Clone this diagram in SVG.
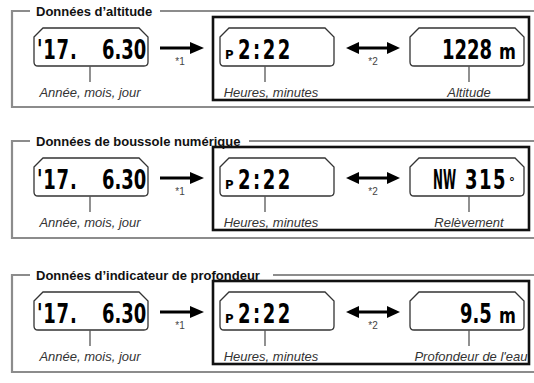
<svg xmlns="http://www.w3.org/2000/svg" xmlns:xlink="http://www.w3.org/1999/xlink" width="534" height="383" viewBox="0 0 534 383">
<style>
.frame{fill:none;stroke:#8c8c8c;stroke-width:2.2}
.title{font-family:"Liberation Sans",Arial,sans-serif;font-weight:bold;font-size:13px;fill:#111}
.box{fill:none;stroke:#111;stroke-width:2.6}
.lcd{fill:#fff;stroke:#333;stroke-width:1.3}
.tick{stroke:#555;stroke-width:1.3}
.lbl{font-family:"Liberation Sans",Arial,sans-serif;font-style:italic;font-size:13px;fill:#333;text-anchor:middle}
.seg{font-family:"DejaVu Sans Condensed","DejaVu Sans",sans-serif;font-weight:bold;font-size:20px;fill:#000}
.unit{font-family:"DejaVu Sans Condensed","DejaVu Sans",sans-serif;font-weight:bold;font-size:18px;fill:#000}
.ind{font-family:"DejaVu Sans Condensed","DejaVu Sans",sans-serif;font-weight:bold;font-size:13px;fill:#000}
.note{font-family:"Liberation Sans",Arial,sans-serif;font-size:10px;fill:#444;text-anchor:middle}
.arr{stroke:#000;stroke-width:3;fill:none}
.head{fill:#000}
</style>
<defs>
<path id="lcdshape" class="lcd" d="M0,9 L9,0 H105 L114,9 V34 Q114,38 110,38 H4 Q0,38 0,34 Z"/>
</defs>

<!-- Panel 1 -->
<g id="panel-altitude">
  <path class="frame" d="M30,11 H12 V107 H534 M160,11 H534"/>
  <text class="title" x="36" y="15.5">Données d’altitude</text>
  <rect class="box" x="213" y="17" width="316" height="83"/>
  <g id="p1-date">
    <use xlink:href="#lcdshape" x="34" y="28"/>
    <text class="seg" transform="translate(37,59) scale(1,1.32)" letter-spacing="0.8">'17.</text>
    <text class="seg" transform="translate(102,59) scale(1,1.32)">6.30</text>
    <line class="tick" x1="90" y1="66" x2="90" y2="82"/>
    <text class="lbl" x="90" y="97">Année, mois, jour</text>
  </g>
  <g id="p1-time">
    <use xlink:href="#lcdshape" x="220" y="28"/>
    <text class="ind" x="225" y="59">P</text>
    <text class="seg" transform="translate(238,59) scale(1,1.32)" letter-spacing="2.5">2:22</text>
    <line class="tick" x1="265" y1="66" x2="265" y2="82"/>
    <text class="lbl" x="271" y="97">Heures, minutes</text>
  </g>
  <g id="p1-alt">
    <use xlink:href="#lcdshape" x="410" y="28"/>
    <text class="seg" transform="translate(442,59) scale(1,1.32)">1228</text>
    <text class="unit" transform="translate(499,59) scale(1,1.15)">m</text>
    <line class="tick" x1="469" y1="66" x2="469" y2="82"/>
    <text class="lbl" x="469" y="97">Altitude</text>
  </g>
  <g id="p1-connectors">
    <line class="arr" x1="160" y1="48" x2="192" y2="48"/>
    <path class="head" d="M190,42 L204,48 L190,54 Z"/>
    <text class="note" x="180" y="65">*1</text>
    <line class="arr" x1="356" y1="48" x2="390" y2="48"/>
    <path class="head" d="M359,42 L346,48 L359,54 Z"/>
    <path class="head" d="M387,42 L400,48 L387,54 Z"/>
    <text class="note" x="373" y="65">*2</text>
  </g>
</g>

<!-- Panel 2 -->
<g id="panel-compass" transform="translate(0,130)">
  <path class="frame" d="M30,11 H12 V108 H534 M249,11 H534"/>
  <text class="title" x="36" y="15.5">Données de boussole numérique</text>
  <rect class="box" x="213" y="17" width="316" height="83"/>
  <g id="p2-date">
    <use xlink:href="#lcdshape" x="34" y="28"/>
    <text class="seg" transform="translate(37,59) scale(1,1.32)" letter-spacing="0.8">'17.</text>
    <text class="seg" transform="translate(102,59) scale(1,1.32)">6.30</text>
    <line class="tick" x1="90" y1="66" x2="90" y2="82"/>
    <text class="lbl" x="90" y="97">Année, mois, jour</text>
  </g>
  <g id="p2-time">
    <use xlink:href="#lcdshape" x="220" y="28"/>
    <text class="ind" x="225" y="59">P</text>
    <text class="seg" transform="translate(238,59) scale(1,1.32)" letter-spacing="2.5">2:22</text>
    <line class="tick" x1="265" y1="66" x2="265" y2="82"/>
    <text class="lbl" x="271" y="97">Heures, minutes</text>
  </g>
  <g id="p2-bearing">
    <use xlink:href="#lcdshape" x="410" y="28"/>
    <text class="seg" transform="translate(433,59) scale(0.66,1.32)">NW</text>
    <text class="seg" transform="translate(465,59) scale(1,1.32)" letter-spacing="1.5">315</text>
    <text class="ind" x="509" y="56" font-size="22">°</text>
    <line class="tick" x1="469" y1="66" x2="469" y2="82"/>
    <text class="lbl" x="469" y="97">Relèvement</text>
  </g>
  <g id="p2-connectors">
    <line class="arr" x1="160" y1="48" x2="192" y2="48"/>
    <path class="head" d="M190,42 L204,48 L190,54 Z"/>
    <text class="note" x="180" y="65">*1</text>
    <line class="arr" x1="356" y1="48" x2="390" y2="48"/>
    <path class="head" d="M359,42 L346,48 L359,54 Z"/>
    <path class="head" d="M387,42 L400,48 L387,54 Z"/>
    <text class="note" x="373" y="65">*2</text>
  </g>
</g>

<!-- Panel 3 -->
<g id="panel-depth" transform="translate(0,264)">
  <path class="frame" d="M30,11 H12 V108 H534 M273,11 H534"/>
  <text class="title" x="36" y="15.5">Données d’indicateur de profondeur</text>
  <rect class="box" x="213" y="17" width="316" height="83"/>
  <g id="p3-date">
    <use xlink:href="#lcdshape" x="34" y="28"/>
    <text class="seg" transform="translate(37,59) scale(1,1.32)" letter-spacing="0.8">'17.</text>
    <text class="seg" transform="translate(102,59) scale(1,1.32)">6.30</text>
    <line class="tick" x1="90" y1="66" x2="90" y2="82"/>
    <text class="lbl" x="90" y="97">Année, mois, jour</text>
  </g>
  <g id="p3-time">
    <use xlink:href="#lcdshape" x="220" y="28"/>
    <text class="ind" x="225" y="59">P</text>
    <text class="seg" transform="translate(238,59) scale(1,1.32)" letter-spacing="2.5">2:22</text>
    <line class="tick" x1="265" y1="66" x2="265" y2="82"/>
    <text class="lbl" x="271" y="97">Heures, minutes</text>
  </g>
  <g id="p3-depth">
    <use xlink:href="#lcdshape" x="410" y="28"/>
    <text class="seg" transform="translate(460,59) scale(1,1.32)">9.5</text>
    <text class="unit" transform="translate(499,59) scale(1,1.15)">m</text>
    <line class="tick" x1="469" y1="66" x2="469" y2="82"/>
    <text class="lbl" x="471" y="97">Profondeur de l'eau</text>
  </g>
  <g id="p3-connectors">
    <line class="arr" x1="160" y1="48" x2="192" y2="48"/>
    <path class="head" d="M190,42 L204,48 L190,54 Z"/>
    <text class="note" x="180" y="65">*1</text>
    <line class="arr" x1="356" y1="48" x2="390" y2="48"/>
    <path class="head" d="M359,42 L346,48 L359,54 Z"/>
    <path class="head" d="M387,42 L400,48 L387,54 Z"/>
    <text class="note" x="373" y="65">*2</text>
  </g>
</g>
</svg>
